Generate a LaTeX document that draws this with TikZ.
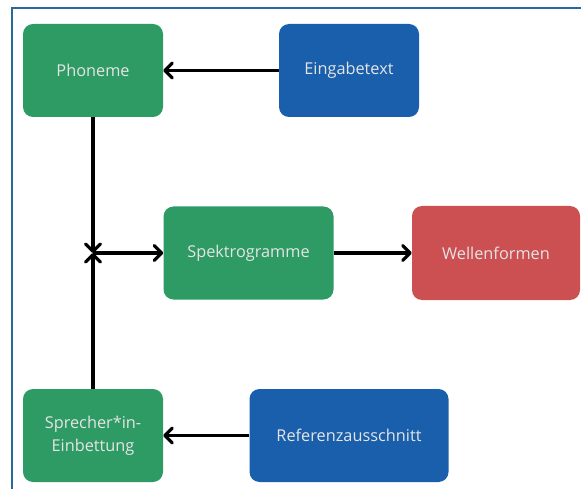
\documentclass[tikz,border=0pt]{standalone}
\usepackage{fontspec}
\setmainfont{Open Sans}
\usetikzlibrary{arrows.meta}
\definecolor{boxgreen}{HTML}{2E9A64}
\definecolor{boxblue}{HTML}{1A5FAC}
\definecolor{boxred}{HTML}{CC5052}
\definecolor{framecol}{HTML}{2A6A9A}
\tikzset{
  box/.style={rectangle, rounded corners=10pt, draw=none, text=white!90!black,
    font=\fontsize{16.3}{23}\selectfont, align=center, inner sep=0pt},
  greenbox/.style={box, fill=boxgreen},
  bluebox/.style={box, fill=boxblue},
  redbox/.style={box, fill=boxred},
  link/.style={line width=3.2pt, -{Straight Barb[length=7.5pt, width=15pt, line width=3.2pt, round]}},
}
\begin{document}
\begin{tikzpicture}[x=1pt, y=-1pt]
  \useasboundingbox (0,0) rectangle (581,489);
  % outer frame, running off the right and bottom edges
  \draw[framecol, line width=1.8pt] (12,495) -- (12,8) -- (590,8);

  \node[greenbox, minimum width=140pt, minimum height=93pt] (phon) at (93,70.5) {Phoneme};
  \node[bluebox, minimum width=140pt, minimum height=93pt] (eing) at (349,70.5) {Eingabetext};
  \node[greenbox, minimum width=170pt, minimum height=93pt] (spek) at (248.5,253) {Spektrogramme};
  \node[redbox, minimum width=168pt, minimum height=94pt] (well) at (496,253) {Wellenformen};
  \node[greenbox, minimum width=140pt, minimum height=93pt] (spre) at (93,435.5) {Sprecher*in-\\Einbettung};
  \node[bluebox, minimum width=199pt, minimum height=93pt] (refz) at (349,435.5) {Referenzausschnitt};

  \coordinate (junc) at (93,253);

  \draw[link] (eing.west) -- (phon.east);
  \draw[link] (phon.south) -- (junc);
  \draw[link] (spre.north) -- (junc);
  \draw[link] (junc) -- (spek.west);
  \draw[link] (spek.east) -- (well.west);
  \draw[link] (refz.west) -- (spre.east);
\end{tikzpicture}
\end{document}
